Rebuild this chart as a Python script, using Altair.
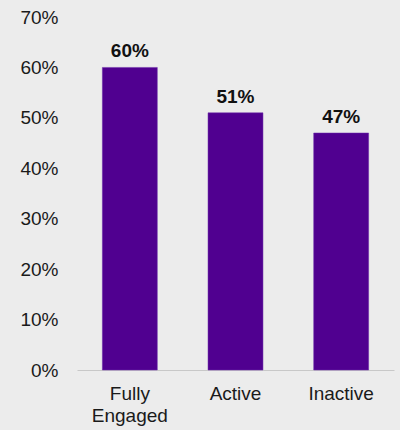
import altair as alt
import pandas as pd

categories = ["Fully Engaged", "Active", "Inactive"]
values = [60, 51, 47]
labels = ["60%", "51%", "47%"]

df = pd.DataFrame({"cat": categories, "val": values, "lab": labels})

FONT = "Liberation Sans"

base = alt.Chart(df).encode(
    x=alt.X("cat:N", sort=categories, title=None,
            scale=alt.Scale(paddingInner=0.48, paddingOuter=0.24),
            axis=alt.Axis(labelAngle=0, ticks=False, domain=True, domainColor="#c8c8c8",
                          domainWidth=1, labelFont=FONT, labelFontSize=19,
                          labelColor="#1a1a1a", labelPadding=14, labelLineHeight=22,
                          labelExpr="datum.value == 'Fully Engaged' ? ['Fully', 'Engaged'] : datum.value")),
    y=alt.Y("val:Q", title=None,
            scale=alt.Scale(domain=[0, 70], nice=False),
            axis=alt.Axis(values=[0, 10, 20, 30, 40, 50, 60, 70], grid=False, ticks=False,
                          domain=False, labelFont=FONT, labelFontSize=19,
                          labelColor="#1a1a1a", labelPadding=19,
                          labelExpr="datum.value + '%'")),
)

bars = base.mark_bar(color="#500090", stroke="#6a2aa8", strokeWidth=0.5)
text = base.mark_text(baseline="bottom", dy=-6, font=FONT, fontSize=19,
                      fontWeight="bold", color="#111111").encode(text="lab:N")

chart = (bars + text).properties(
    width=317, height=353,
    background="#ececec",
    padding={"left": 77, "top": 17, "right": 6, "bottom": 60},
    autosize=alt.AutoSizeParams(type="none"),
).configure_view(stroke=None)

chart.save("out.html", embed_options={"renderer": "svg", "actions": False})
